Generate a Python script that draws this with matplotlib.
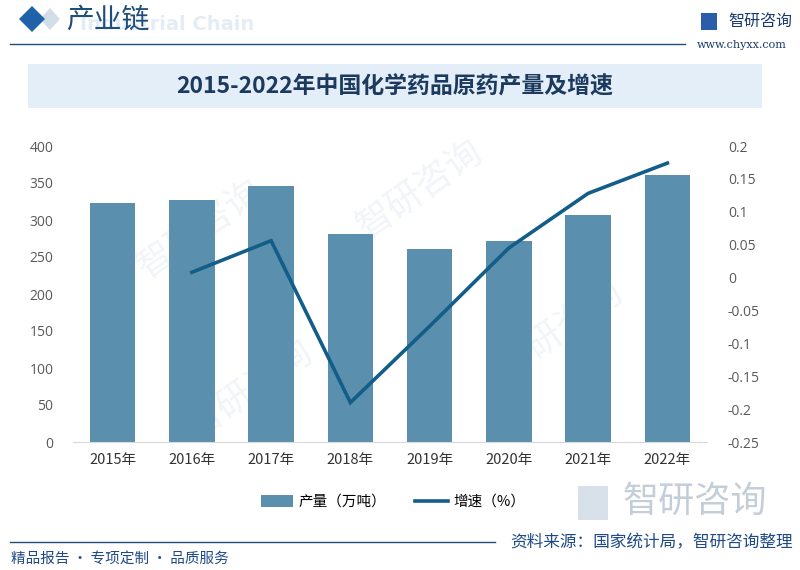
import matplotlib
matplotlib.use("Agg")
import matplotlib.pyplot as plt
from matplotlib.patches import Rectangle, Polygon
from matplotlib.lines import Line2D

plt.rcParams['font.family'] = ['Noto Sans CJK SC', 'DejaVu Sans']

years = ["2015年", "2016年", "2017年", "2018年", "2019年", "2020年", "2021年", "2022年"]
output = [323, 327, 346, 281, 261, 271, 307, 361]          # 产量（万吨）
growth_years_idx = [1, 2, 3, 4, 5, 6, 7]
growth = [0.008, 0.056, -0.19, -0.074, 0.045, 0.128, 0.174]  # 增速
left_ticks = [0, 50, 100, 150, 200, 250, 300, 350, 400]
right_ticks = [-0.25, -0.2, -0.15, -0.1, -0.05, 0, 0.05, 0.1, 0.15, 0.2]
right_labels = ["-0.25", "-0.2", "-0.15", "-0.1", "-0.05", "0", "0.05", "0.1", "0.15", "0.2"]

bar_color = "#5b8fae"
line_color = "#135d89"
tick_color = "#595959"

W, H = 800, 570
fig = plt.figure(figsize=(8, 5.7), dpi=100)
fig.patch.set_facecolor("white")

def fx(x): return x / W
def fy(y): return 1 - y / H

# faint watermarks inside chart region
for (x, y) in [(200, 230), (420, 190), (560, 330), (250, 390)]:
    fig.text(fx(x), fy(y), "智研咨询", fontsize=26, color="#f1f4f8", rotation=35,
             ha="center", va="center", zorder=-1)

# header
fig.patches.append(Polygon([[fx(40), fy(19)], [fx(50), fy(8)], [fx(60), fy(19)], [fx(50), fy(30)]],
                           closed=True, transform=fig.transFigure, facecolor="#d3dde8", edgecolor="none"))
fig.patches.append(Polygon([[fx(19), fy(19)], [fx(32), fy(6)], [fx(45), fy(19)], [fx(32), fy(32)]],
                           closed=True, transform=fig.transFigure, facecolor="#1f62a8", edgecolor="none"))
fig.text(fx(80), fy(25), "Industrial Chain", fontsize=14, color="#e4edf6", fontweight="bold",
         family=["DejaVu Sans"], ha="left", va="center")
fig.text(fx(66), fy(20), "产业链", fontsize=20, color="#1f4e79", ha="left", va="center")
fig.lines.append(Line2D([fx(10), fx(685)], [fy(44), fy(44)], transform=fig.transFigure,
                        color="#1f4e79", lw=1.0))
fig.text(fx(728), fy(21), "智研咨询", fontsize=11.5, color="#1a3a6c", ha="left", va="center")
fig.patches.append(Rectangle((fx(701), fy(30)), 16 / W, 17 / H, transform=fig.transFigure,
                             facecolor="#2a5ea8", edgecolor="none"))
fig.text(fx(697), fy(45), "www.chyxx.com", fontsize=8, color="#1a3a6c", ha="left", va="center",
         family=["DejaVu Serif"])

# title banner
fig.patches.append(Rectangle((fx(28), fy(108)), (762 - 28) / W, (108 - 64) / H, transform=fig.transFigure,
                             facecolor="#e3eef8", edgecolor="none"))
fig.text(fx(395), fy(87), "2015-2022年中国化学药品原药产量及增速", fontsize=16.5, fontweight="bold",
         color="#1b3a5e", ha="center", va="center")

# axes
ax = fig.add_axes([fx(73), fy(442), (707 - 73) / W, (442 - 146) / H])
ax.patch.set_alpha(0)
x = list(range(len(years)))
ax.bar(x, output, width=0.575, color=bar_color, label="产量（万吨）", zorder=2)
ax.set_ylim(0, 400)
ax.set_xlim(-0.5, len(years) - 0.5)
ax.set_yticks(left_ticks)
ax.set_xticks(x)
ax.set_xticklabels(years, fontsize=10.5, color="#333333")
ax.tick_params(axis="y", labelsize=10, colors=tick_color, length=0, pad=14)
ax.tick_params(axis="x", length=0, pad=8)
for s in ["top", "right", "left"]:
    ax.spines[s].set_visible(False)
ax.spines["bottom"].set_color("#d9d9d9")
for lab in ax.get_yticklabels():
    lab.set_family(["Open Sans", "DejaVu Sans"])

ax2 = ax.twinx()
ax2.set_ylim(-0.25, 0.2)
ax2.set_yticks(right_ticks)
ax2.set_yticklabels(right_labels)
ax2.tick_params(axis="y", labelsize=10, colors=tick_color, length=0, pad=15)
for lab in ax2.get_yticklabels():
    lab.set_family(["Open Sans", "DejaVu Sans"])
for s in ["top", "right", "left", "bottom"]:
    ax2.spines[s].set_visible(False)
ax2.plot(growth_years_idx, growth, color=line_color, lw=2.6, label="增速（%）", zorder=3,
         solid_joinstyle="miter")

# legend
handles = [Rectangle((0, 0), 1, 1, facecolor=bar_color), Line2D([0], [0], color=line_color, lw=2.6)]
fig.legend(handles, ["产量（万吨）", "增速（%）"], loc="center", bbox_to_anchor=(fx(393), fy(502)),
           ncol=2, frameon=False, fontsize=10.5, handlelength=2.2, handleheight=0.8,
           columnspacing=2.0, handletextpad=0.4)

# footer
fig.patches.append(Rectangle((fx(578), fy(520)), 30 / W, 34 / H, transform=fig.transFigure,
                             facecolor="#d8e0ea", edgecolor="none"))
fig.text(fx(695), fy(502), "智研咨询", fontsize=26, color="#c4ced9", ha="center", va="center")
fig.lines.append(Line2D([fx(10), fx(495)], [fy(542), fy(542)], transform=fig.transFigure,
                        color="#1f4e79", lw=1.0))
fig.text(fx(793), fy(543), "资料来源：国家统计局，智研咨询整理", fontsize=12, color="#1f4a86",
         ha="right", va="center")
fig.text(fx(11), fy(560), "精品报告 · 专项定制 · 品质服务", fontsize=10.5, color="#1f4a86",
         ha="left", va="center")

fig.savefig("out.png", dpi=100, facecolor="white")
